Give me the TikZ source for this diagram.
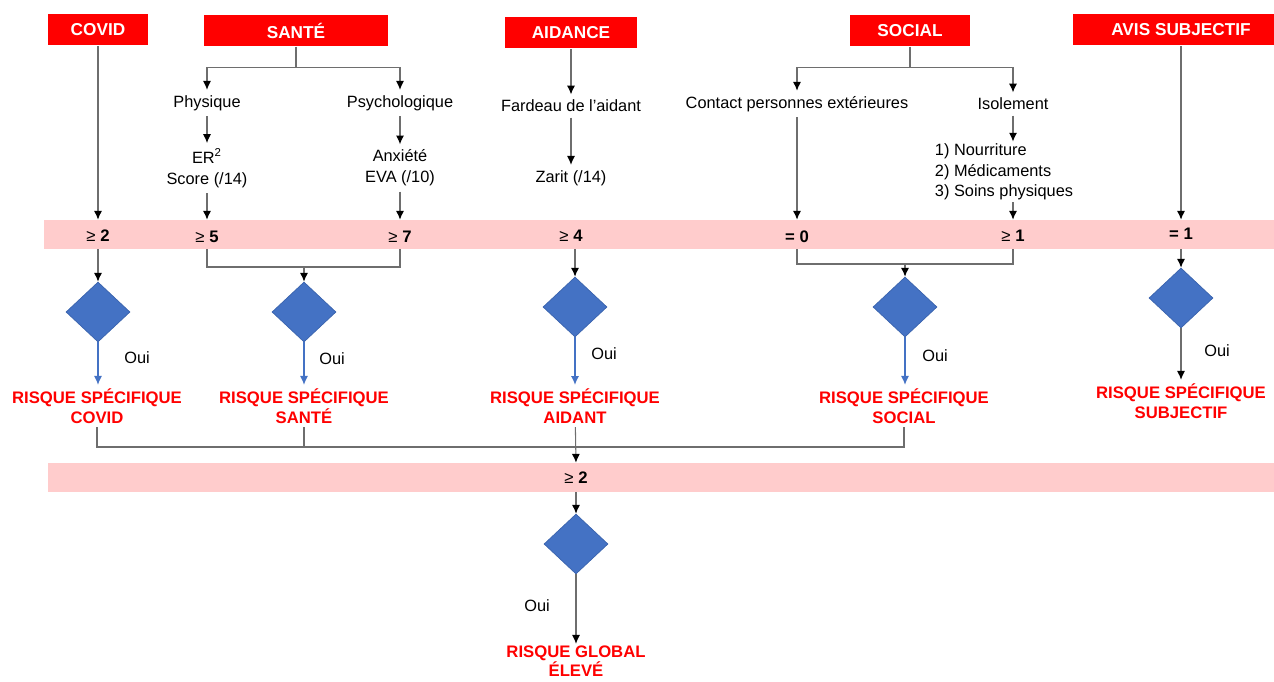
\documentclass[tikz,border=0pt]{standalone}
\usepackage{fontspec}
\setmainfont{Liberation Sans}
\usetikzlibrary{shapes.geometric,arrows.meta}
\definecolor{hdrred}{HTML}{FF0000}
\definecolor{bandpink}{HTML}{FFCCCC}
\definecolor{diamblue}{HTML}{4472C4}
\definecolor{diamedge}{HTML}{3A63AD}
\definecolor{linegray}{HTML}{6E6E6E}

\begin{document}
\begin{tikzpicture}[x=0.02cm,y=-0.02cm]
    \useasboundingbox (0,0) rectangle (1274,682);

    \tikzstyle{hdr}=[fill=hdrred,text=white,font=\fontsize{9.8}{11}\selectfont\bfseries,minimum height=0.62cm,inner sep=0pt]
    \tikzstyle{item}=[font=\fontsize{9.3}{11.8}\selectfont,align=center,inner sep=3pt]
    \tikzstyle{band}=[fill=bandpink,minimum height=0.58cm,inner sep=0pt]
    \tikzstyle{cond}=[font=\fontsize{9.5}{11}\selectfont\bfseries,inner sep=1pt]
    \tikzstyle{choice}=[diamond,fill=diamblue,draw=diamedge,line width=0.4pt,minimum width=1.28cm,minimum height=1.2cm,inner sep=0pt]
    \tikzstyle{risk}=[text=red,font=\fontsize{9.5}{11.3}\selectfont\bfseries,align=center,inner sep=2pt]
    \tikzstyle{yes}=[font=\fontsize{9.3}{11}\selectfont]

    \node[hdr,minimum width=2cm]    (covid)   at (98,30)   {COVID};
    \node[hdr,minimum width=3.68cm] (sante)   at (296,31)  {SANTÉ};
    \node[hdr,minimum width=2.64cm] (aidance) at (571,33)  {AIDANCE};
    \node[hdr,minimum width=2.4cm]  (social)  at (910,31)  {SOCIAL};
    \node[hdr,minimum width=4.32cm] (avis)    at (1181,30) {AVIS SUBJECTIF};

    \node[item] (phys)    at (207,103)  {Physique};
    \node[item] (psy)     at (400,103)  {Psychologique};
    \node[item] (er)      at (207,168)  {ER\textsuperscript{2}\\Score (/14)};
    \node[item] (anx)     at (400,168)  {Anxiété\\EVA (/10)};
    \node[item] (fardeau) at (571,106)  {Fardeau de l’aidant};
    \node[item] (zarit)   at (571,178)  {Zarit (/14)};
    \node[item] (contact) at (797,104)  {Contact personnes extérieures};
    \node[item] (isol)    at (1013,104) {Isolement};
    \node[item,align=left,inner sep=1pt] (needs) at (1004,172) {1) Nourriture\\2) Médicaments\\3) Soins physiques};

    \node[band,minimum width=24.6cm] (bandA) at (659,234.5) {};
    \node[cond] (gCovid)  at (98,236)   {{\mdseries ≥} 2};
    \node[cond] (gPhys)   at (207,237)  {{\mdseries ≥} 5};
    \node[cond] (gPsy)    at (400,237)  {{\mdseries ≥} 7};
    \node[cond] (gAidant) at (571,236)  {{\mdseries ≥} 4};
    \node[cond] (gContact) at (797,237) {= 0};
    \node[cond] (gIsol)   at (1013,236) {{\mdseries ≥} 1};
    \node[cond] (gAvis)   at (1181,234) {= 1};

    \node[choice] (dCovid)  at (98,312)  {};
    \node[choice] (dSante)  at (304,312) {};
    \node[choice] (dAidant) at (575,307) {};
    \node[choice] (dSocial) at (905,307) {};
    \node[choice] (dAvis)   at (1181,298) {};

    \node[yes] (oCovid)  at (137,358)  {Oui};
    \node[yes] (oSante)  at (332,359)  {Oui};
    \node[yes] (oAidant) at (604,354)  {Oui};
    \node[yes] (oSocial) at (935,356)  {Oui};
    \node[yes] (oAvis)   at (1217,351) {Oui};

    \node[risk] (rCovid)  at (97,406)   {RISQUE SPÉCIFIQUE\\COVID};
    \node[risk] (rSante)  at (304,406)  {RISQUE SPÉCIFIQUE\\SANTÉ};
    \node[risk] (rAidant) at (575,406)  {RISQUE SPÉCIFIQUE\\AIDANT};
    \node[risk] (rSocial) at (904,406)  {RISQUE SPÉCIFIQUE\\SOCIAL};
    \node[risk] (rAvis)   at (1181,401) {RISQUE SPÉCIFIQUE\\SUBJECTIF};

    \node[band,minimum width=24.52cm] (bandB) at (661,477.5) {};
    \node[cond] (gGlobal) at (576,478) {{\mdseries ≥} 2};
    \node[choice] (dGlobal) at (576,544) {};
    \node[yes] (oGlobal) at (537,606) {Oui};
    \node[risk,font=\fontsize{9.5}{10.6}\selectfont\bfseries,inner sep=1pt] (rGlobal) at (576,661) {RISQUE GLOBAL\\ÉLEVÉ};

    \coordinate (jSante)  at (304,267);
    \coordinate (jSocial) at (905,264);
    \coordinate (jAll)    at (576,447);

    \tikzstyle{fwd} = [draw=linegray, line width=0.6pt, -{Latex[length=5pt,width=4.6pt,color=black]}]
    \tikzstyle{tie} = [draw=linegray, line width=0.6pt]
    \tikzstyle{oui} = [draw=diamblue, line width=0.6pt, -{Latex[length=5pt,width=4.6pt]}]

          \draw [fwd] (covid) -- (covid |- bandA.north);
          \draw [fwd] (sante.south) -- ++(0,21) -| (phys.north);
          \draw [fwd] (sante.south) -- ++(0,21) -| (psy.north);
          \draw [fwd] (phys) -- (er);
          \draw [fwd] (psy) -- (anx);
          \draw [fwd] (er) -- (er |- bandA.north);
          \draw [fwd] (anx) -- (anx |- bandA.north);
          \draw [fwd] (aidance) -- (fardeau);
          \draw [fwd] (fardeau) -- (zarit);
          \draw [fwd] (social.south) -- ++(0,21) -| (contact.north);
          \draw [fwd] (social.south) -- ++(0,21) -| (isol.north);
          \draw [fwd] (contact) -- (contact |- bandA.north);
          \draw [fwd] (isol) -- (isol |- needs.north);
          \draw [fwd] (isol |- needs.south) -- (isol |- bandA.north);
          \draw [fwd] (avis) -- (avis |- bandA.north);

          \draw [fwd] (dCovid |- bandA.south) -- (dCovid);
          \draw [tie] (gPhys |- bandA.south) |- (jSante) -| (gPsy |- bandA.south);
          \draw [fwd] (jSante) -- (dSante);
          \draw [fwd] (dAidant |- bandA.south) -- (dAidant);
          \draw [tie] (gContact |- bandA.south) |- (jSocial) -| (gIsol |- bandA.south);
          \draw [fwd] (jSocial) -- (dSocial);
          \draw [fwd] (dAvis |- bandA.south) -- (dAvis);

          \draw [oui] (dCovid) -- (dCovid |- rCovid.north);
          \draw [oui] (dSante) -- (dSante |- rSante.north);
          \draw [oui] (dAidant) -- (dAidant |- rAidant.north);
          \draw [oui] (dSocial) -- (dSocial |- rSocial.north);
          \draw [fwd] (dAvis) -- (dAvis |- rAvis.north);

          \draw [tie] (rCovid) |- (jAll) -| (rSocial);
          \draw [tie] (rSante) -- (rSante |- jAll);
          \draw [fwd] (rAidant) -- (jAll |- bandB.north);
          \draw [fwd] (gGlobal |- bandB.south) -- (dGlobal);
          \draw [fwd] (dGlobal) -- (rGlobal);

  \end{tikzpicture}
\end{document}
